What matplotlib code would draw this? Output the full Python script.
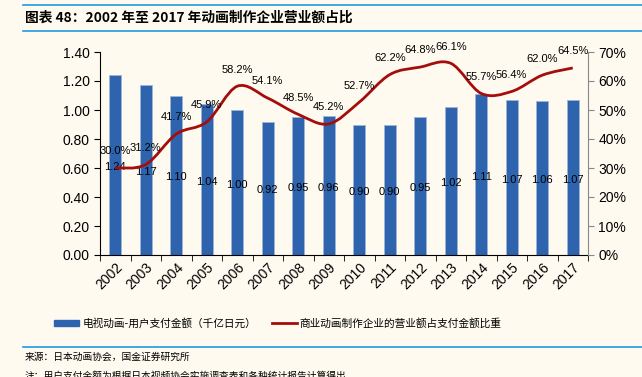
import numpy as np
import matplotlib.pyplot as plt
from matplotlib.path import Path
from matplotlib.patches import PathPatch, Patch
from matplotlib.lines import Line2D

plt.rcParams['font.family'] = ['Liberation Sans', 'Noto Sans CJK SC', 'DejaVu Sans']

years = ['2002', '2003', '2004', '2005', '2006', '2007', '2008', '2009',
         '2010', '2011', '2012', '2013', '2014', '2015', '2016', '2017']
pay = [1.24, 1.17, 1.10, 1.04, 1.00, 0.92, 0.95, 0.96,
       0.90, 0.90, 0.95, 1.02, 1.11, 1.07, 1.06, 1.07]
share = [30.0, 31.2, 41.7, 45.9, 58.2, 54.1, 48.5, 45.2,
         52.7, 62.2, 64.8, 66.1, 55.7, 56.4, 62.0, 64.5]

bg = '#FEFAEF'
bar_c = '#2D64AD'
line_c = '#A50D0D'
rule_c = '#1E9BE2'
cjk = ['Noto Sans CJK SC', 'DejaVu Sans']

fig = plt.figure(figsize=(6.42, 3.77), dpi=100, facecolor=bg)
ax = fig.add_axes([100/642, 1-255/377, 488/642, 203/377])
ax.set_facecolor(bg)
x = np.arange(len(years))

ax.bar(x, pay, width=0.4, color=bar_c, edgecolor='#9DB4DA', linewidth=0.6, zorder=2)
for xi, v in zip(x, pay):
    ax.text(xi, v/2 - 0.015, f'{v:.2f}', ha='center', va='center', fontsize=8, zorder=5)

ax.set_xlim(-0.5, len(years)-0.5)
ax.set_ylim(0, 1.4)
ax.set_yticks(np.arange(0, 1.41, 0.2))
ax.set_yticklabels([f'{t:.2f}' for t in np.arange(0, 1.41, 0.2)], fontsize=10)
ax.set_xticks(x)
ax.set_xticklabels(years, rotation=45, fontsize=10, ha='right', rotation_mode='anchor')
ax.tick_params(axis='x', length=0, pad=4)
ax.set_xticks(np.arange(-0.5, len(years)), minor=True)
ax.tick_params(axis='x', which='minor', length=4, direction='out')
ax.tick_params(axis='y', length=4, direction='out')
ax.spines['top'].set_visible(False)
ax.spines['right'].set_visible(False)

ax2 = ax.twinx()
ax2.set_ylim(0, 70)
ax2.set_yticks(np.arange(0, 71, 10))
ax2.set_yticklabels([f'{t}%' for t in range(0, 71, 10)], fontsize=10)
ax2.tick_params(axis='y', length=4, direction='out', color='#888888')
ax2.spines['top'].set_visible(False)
ax2.spines['left'].set_visible(False)
ax2.spines['bottom'].set_visible(False)
ax2.spines['right'].set_color('#888888')

# smoothed line through the data points (cubic Bezier segments)
pts = np.column_stack([x, share]).astype(float)
ext = np.vstack([pts[0], pts, pts[-1]])
verts = [tuple(pts[0])]
codes = [Path.MOVETO]
for i in range(len(pts)-1):
    p0, p1, p2, p3 = ext[i], ext[i+1], ext[i+2], ext[i+3]
    c1 = p1 + (p2 - p0) / 6
    c2 = p2 - (p3 - p1) / 6
    verts += [tuple(c1), tuple(c2), tuple(p2)]
    codes += [Path.CURVE4] * 3
ax2.add_patch(PathPatch(Path(verts, codes), facecolor='none', edgecolor=line_c, lw=2, zorder=3))
for xi, s in zip(x, share):
    ax2.annotate(f'{s:.1f}%', (xi, s), xytext=(0, 12), textcoords='offset points',
                 ha='center', va='center', fontsize=8)

handles = [Patch(color=bar_c), Line2D([], [], color=line_c, lw=2)]
labels = ['电视动画-用户支付金额（千亿日元）', '商业动画制作企业的营业额占支付金额比重']
fig.legend(handles, labels, loc='center', bbox_to_anchor=(0.433, 1-323/377), ncol=2,
           frameon=False, prop={'family': cjk, 'size': 7.7}, handlelength=2.3,
           handleheight=0.5, handletextpad=0.3, columnspacing=1.5)

# header / footer rules and text
for yy in (5, 31, 347):
    fig.add_artist(Line2D([23/642, 1], [1-yy/377]*2, color=rule_c, lw=1.2))
fig.text(25/642, 1-18/377, '图表 48：2002 年至 2017 年动画制作企业营业额占比', fontsize=9.9,
         fontweight='bold', family=cjk, va='center', style='italic')
fig.text(25/642, 1-357/377, '来源：日本动画协会，国金证券研究所', fontsize=7, family=cjk, va='center')
fig.text(25/642, 1-376/377, '注：用户支付金额为根据日本视频协会实施调查表和各种统计报告计算得出',
         fontsize=7, family=cjk, va='center')

fig.savefig('out.png', dpi=100, facecolor=bg)
